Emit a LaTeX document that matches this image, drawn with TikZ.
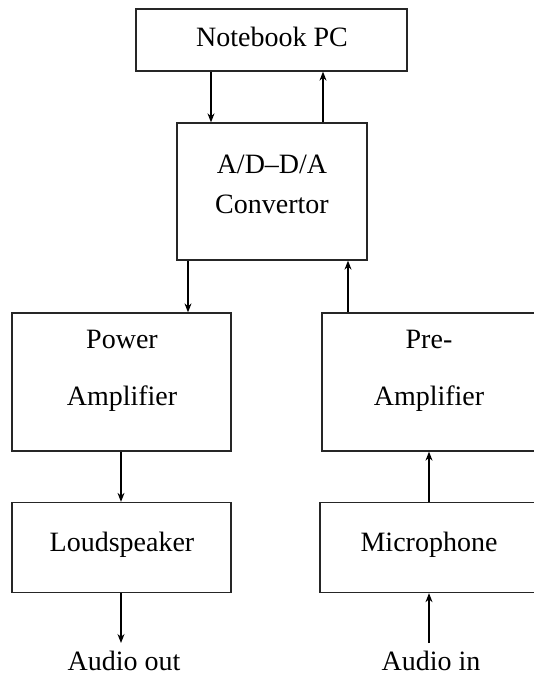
\documentclass[tikz,border=0pt]{standalone}
\usepackage{fontspec}
\setmainfont{Liberation Serif}
\usetikzlibrary{arrows.meta}
\begin{document}
\begin{tikzpicture}[x=1pt,y=-1pt,
  blk/.style={draw=black!85, line width=1.3pt, inner sep=0pt},
  lbl/.style={anchor=base, inner sep=0pt, font=\fontsize{28}{33}\selectfont},
  arr/.style={line width=1.2pt, -{Stealth[length=9pt,width=7pt]}}]
\useasboundingbox (0,0) rectangle (534,677);
% boxes
\node[blk, minimum width=271pt, minimum height=62pt] (pc) at (271.5,40) {};
\node[blk, minimum width=190pt, minimum height=137pt] (adda) at (272,191.5) {};
\node[blk, minimum width=219pt, minimum height=138pt] (pa) at (121.5,382) {};
\node[blk, minimum width=216pt, minimum height=138pt] (pre) at (430,382) {};
\node[blk, minimum width=219pt, minimum height=90pt] (ls) at (121.5,547.5) {};
\node[blk, minimum width=218pt, minimum height=90pt] (mic) at (429,547.5) {};
% labels
\node[lbl] (tpc) at (272,47) {Notebook PC};
\node[lbl] (tadda1) at (272,173) {A/D–D/A};
\node[lbl] (tadda2) at (272,213) {Convertor};
\node[lbl] (tpa1) at (122,348) {Power};
\node[lbl] (tpa2) at (122,405) {Amplifier};
\node[lbl] (tpre1) at (429,348) {Pre-};
\node[lbl] (tpre2) at (429,405) {Amplifier};
\node[lbl] (tls) at (122,551) {Loudspeaker};
\node[lbl] (tmic) at (429,551) {Microphone};
\node[lbl] (tout) at (124,670) {Audio out};
\node[lbl] (tin) at (431,670) {Audio in};
\coordinate (outend) at (121,643);
\coordinate (instart) at (429,643);
% connectors
\draw[arr] (pc.south -| 211,0) -- (adda.north -| 211,0);
\draw[arr] (adda.north -| 323,0) -- (pc.south -| 323,0);
\draw[arr] (adda.south -| 188,0) -- (pa.north -| 188,0);
\draw[arr] (pre.north -| 348,0) -- (adda.south -| 348,0);
\draw[arr] (pa.south -| 121,0) -- (ls.north -| 121,0);
\draw[arr] (mic.north -| 429,0) -- (pre.south -| 429,0);
\draw[arr] (ls.south -| 121,0) -- (outend);
\draw[arr] (instart) -- (mic.south -| 429,0);
\end{tikzpicture}
\end{document}
